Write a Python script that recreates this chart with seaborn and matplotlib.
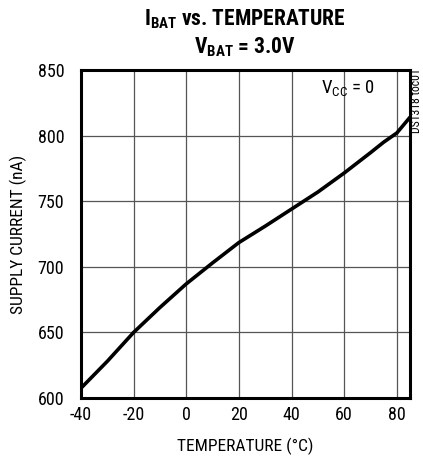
import matplotlib
matplotlib.use("Agg")
import matplotlib.pyplot as plt
import seaborn as sns
import pandas as pd

# values
temperature = [-40, -30, -20, -10, 0, 10, 20, 30, 40, 50, 60, 70, 75, 80, 85]
supply_current = [607.5, 628, 650, 669, 687, 703, 718.5, 731, 744, 757, 771.5, 787, 795, 802, 814]
x_ticks = [-40, -20, 0, 20, 40, 60, 80]
y_ticks = [600, 650, 700, 750, 800, 850]

sns.set_style("white")
plt.rcParams['font.family'] = ['Roboto Condensed', 'DejaVu Sans']
plt.rcParams['axes.unicode_minus'] = False
plt.rcParams['text.color'] = 'black'
plt.rcParams['axes.labelcolor'] = 'black'
plt.rcParams['xtick.color'] = 'black'
plt.rcParams['ytick.color'] = 'black'

df = pd.DataFrame({'temp': temperature, 'current': supply_current})

fig = plt.figure(figsize=(4.23, 4.57), dpi=100)
ax = fig.add_axes([81 / 423, 1 - 398 / 457, 329 / 423, 328 / 457])

sns.lineplot(data=df, x='temp', y='current', ax=ax, color='black', lw=2.6)

ax.set_xlim(-40, 85)
ax.set_ylim(600, 850)
ax.set_xticks(x_ticks)
ax.set_yticks(y_ticks)
ax.grid(True, color='#555555', lw=0.9)
ax.set_axisbelow(True)
for s in ax.spines.values():
    s.set_color('black')
    s.set_linewidth(2.2)
ax.tick_params(axis='both', length=0, labelsize=13)
ax.tick_params(axis='y', pad=12)
ax.tick_params(axis='x', pad=6)

ax.set_xlabel('TEMPERATURE (°C)', fontsize=12.5)
ax.set_ylabel('SUPPLY CURRENT (nA)', fontsize=12.5)
ax.xaxis.set_label_coords(0.5, -0.12)
ax.yaxis.set_label_coords(-0.165, 0.5)

ax.text(61.5, 836, r'V$_{\mathregular{CC}}$ = 0', fontsize=13.5, ha='center', va='center')
fig.text(416 / 423, 1 - 68 / 457, 'DS1318 toc01', rotation=90, fontsize=8.5,
         ha='center', va='top')

fig.text(245 / 423, 1 - 19 / 457, r'I$_{\mathregular{BAT}}$ vs. TEMPERATURE',
         fontsize=15.5, fontweight='bold', ha='center', va='center')
fig.text(245 / 423, 1 - 47 / 457, r'V$_{\mathregular{BAT}}$ = 3.0V',
         fontsize=15.5, fontweight='bold', ha='center', va='center')

fig.savefig('out.png', dpi=100)
